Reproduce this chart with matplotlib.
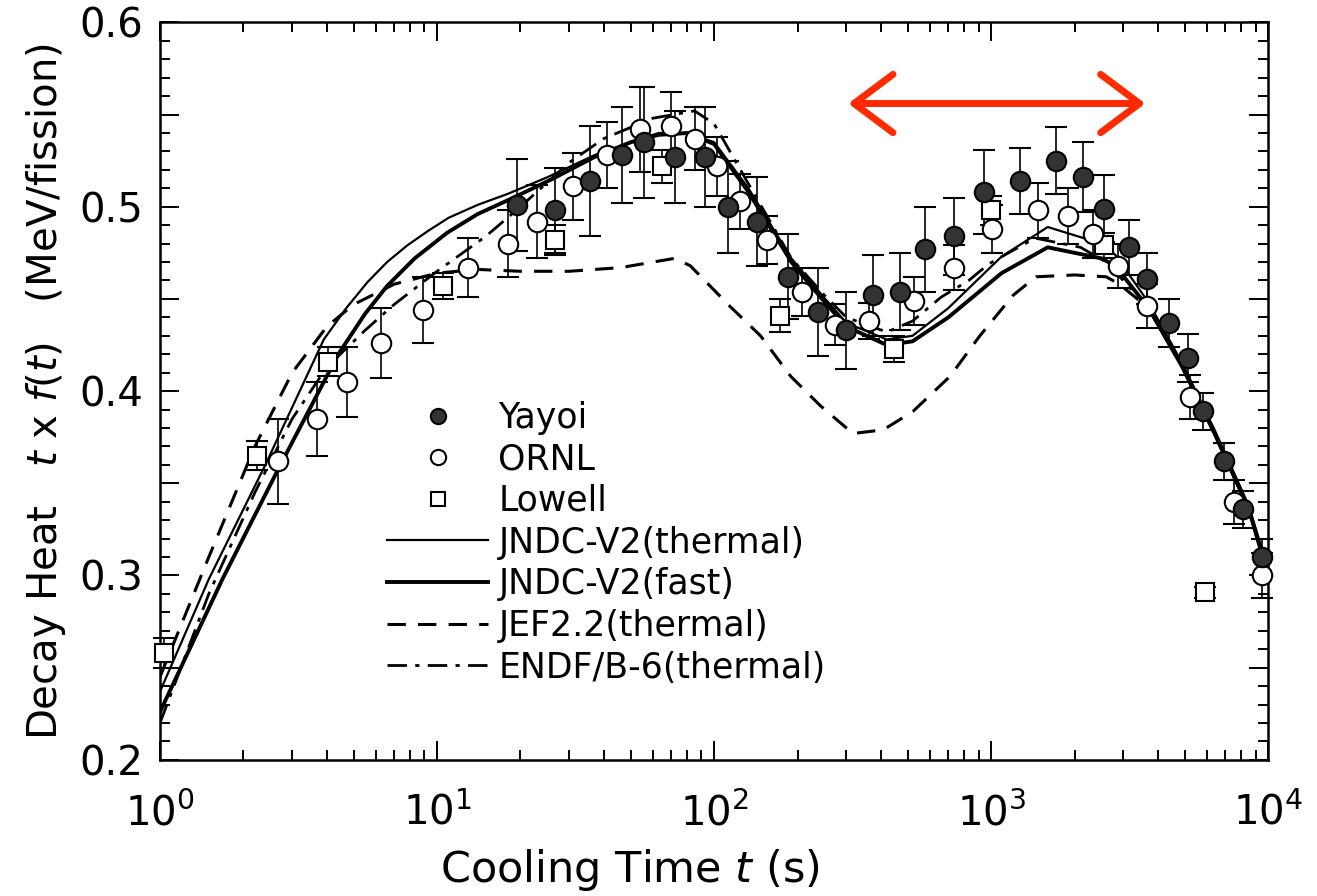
import numpy as np
import matplotlib
matplotlib.use("Agg")
import matplotlib.pyplot as plt
from matplotlib.lines import Line2D
from matplotlib.ticker import MultipleLocator, FuncFormatter, LogLocator

plt.rcParams['font.family'] = ['DejaVu Sans']
plt.rcParams['mathtext.fontset'] = 'dejavusans'

# measured points (cooling time s, t*f(t) MeV/fission, error)
t_yayoi = [19.4, 26.7, 35.7, 46.6, 56, 72, 93, 112, 143, 185, 237, 300, 375, 467, 577,
           736, 945, 1270, 1720, 2150, 2560, 3130, 3650, 4370, 5140, 5800, 6900, 8100, 9500]
v_yayoi = [0.501, 0.498, 0.514, 0.528, 0.535, 0.527, 0.527, 0.500, 0.492, 0.462, 0.443, 0.433,
           0.452, 0.454, 0.477, 0.484, 0.508, 0.514, 0.525, 0.516, 0.499, 0.478, 0.461, 0.437,
           0.418, 0.389, 0.362, 0.336, 0.310]
e_yayoi = [0.025, 0.023, 0.030, 0.026, 0.030, 0.025, 0.027, 0.025, 0.024, 0.023, 0.024, 0.021,
           0.022, 0.021, 0.023, 0.021, 0.023, 0.018, 0.018, 0.019, 0.018, 0.015, 0.014, 0.013,
           0.013, 0.010, 0.010, 0.010, 0.010]

t_ornl = [2.67, 3.69, 4.73, 6.28, 8.9, 12.9, 18, 23, 31, 41, 54, 70, 85, 102, 124, 155, 208,
          274, 362, 525, 737, 1010, 1470, 1900, 2330, 2860, 3660, 5200, 7500, 9500]
v_ornl = [0.362, 0.385, 0.405, 0.426, 0.444, 0.467, 0.480, 0.492, 0.511, 0.528, 0.542, 0.544,
          0.537, 0.522, 0.503, 0.482, 0.454, 0.436, 0.438, 0.449, 0.467, 0.488, 0.498, 0.495,
          0.485, 0.468, 0.446, 0.397, 0.340, 0.300]
e_ornl = [0.023, 0.020, 0.019, 0.019, 0.018, 0.016, 0.018, 0.020, 0.018, 0.018, 0.023, 0.018,
          0.017, 0.016, 0.015, 0.013, 0.013, 0.011, 0.010, 0.013, 0.012, 0.013, 0.015, 0.015,
          0.013, 0.012, 0.012, 0.012, 0.012, 0.012]

t_lowell = [1.03, 2.24, 4.04, 10.5, 26.6, 65, 173, 445, 1000, 2560, 5900]
v_lowell = [0.258, 0.365, 0.416, 0.457, 0.482, 0.522, 0.441, 0.423, 0.498, 0.479, 0.291]
e_lowell = [0.008, 0.008, 0.008, 0.007, 0.008, 0.009, 0.009, 0.007, 0.008, 0.007, 0.003]

# calculations
t_thermal = [1, 1.5, 2.4, 3.9, 4.7, 5.6, 6.6, 7.8, 9.3, 11, 14, 18, 25, 37, 50, 63, 80, 100,
             133, 190, 245, 300, 420, 520, 700, 1090, 1600, 2500, 2800, 3700, 4900, 6400,
             8500, 10000]
v_thermal = [0.237, 0.298, 0.360, 0.428, 0.445, 0.459, 0.470, 0.479, 0.487, 0.494, 0.501,
             0.507, 0.516, 0.528, 0.535, 0.540, 0.540, 0.535, 0.510, 0.472, 0.452, 0.437,
             0.428, 0.430, 0.445, 0.473, 0.489, 0.480, 0.474, 0.448, 0.415, 0.379, 0.338, 0.303]

t_fast = [1, 1.68, 2.72, 4.4, 5.5, 6.6, 8.3, 10.9, 14, 18.9, 26, 37, 50, 63, 80, 100, 133,
          190, 245, 300, 420, 520, 700, 1090, 1600, 2500, 2800, 3700, 4900, 6400, 8500, 10000]
v_fast = [0.226, 0.298, 0.360, 0.420, 0.442, 0.457, 0.472, 0.486, 0.496, 0.505, 0.515, 0.527,
          0.535, 0.539, 0.540, 0.534, 0.508, 0.470, 0.450, 0.435, 0.425, 0.427, 0.440, 0.464,
          0.478, 0.472, 0.468, 0.445, 0.413, 0.377, 0.336, 0.300]

t_jef = [1, 1.5, 2.2, 3, 4, 5, 7, 10, 14, 20, 30, 46, 72, 82, 114, 147, 189, 242, 317, 408,
         522, 710, 910, 1200, 1450, 2000, 2600, 2900, 3700, 4900, 6400, 8500, 10000]
v_jef = [0.245, 0.310, 0.370, 0.410, 0.435, 0.447, 0.458, 0.464, 0.466, 0.465, 0.465, 0.467,
         0.472, 0.468, 0.446, 0.430, 0.408, 0.392, 0.377, 0.379, 0.389, 0.408, 0.430, 0.452,
         0.462, 0.463, 0.462, 0.458, 0.445, 0.413, 0.377, 0.336, 0.300]

t_endf = [1, 1.5, 2.2, 3, 4, 5.5, 7, 10, 15, 20, 30, 40, 60, 85, 100, 130, 190, 250, 300, 420,
          520, 660, 830, 980, 1440, 2100, 2600, 3700, 4900, 6400, 8500, 10000]
v_endf = [0.220, 0.290, 0.345, 0.385, 0.413, 0.433, 0.447, 0.465, 0.484, 0.500, 0.524, 0.537,
          0.548, 0.552, 0.545, 0.515, 0.472, 0.452, 0.440, 0.432, 0.438, 0.451, 0.460, 0.469,
          0.483, 0.478, 0.470, 0.445, 0.413, 0.377, 0.336, 0.300]

fig = plt.figure(figsize=(13.17, 8.96), dpi=100)
ax = fig.add_axes([0.1215, 0.152, 0.8415, 0.823])

ax.plot(t_thermal, v_thermal, color='black', lw=1.6, zorder=2)
ax.plot(t_fast, v_fast, color='black', lw=2.8, zorder=2)
ax.plot(t_jef, v_jef, color='black', lw=2.2, ls=(0, (6, 4)), zorder=2)
ax.plot(t_endf, v_endf, color='black', lw=2.0, ls=(0, (7, 3, 1.5, 3)), zorder=2)

eb = dict(ecolor='black', elinewidth=1.2, capsize=8, capthick=1.2, mec='black', mew=1.5,
          ls='none', zorder=3, clip_on=False)
ax.errorbar(t_lowell, v_lowell, yerr=e_lowell, marker='s', ms=13, mfc='white', **eb)
ax.errorbar(t_ornl, v_ornl, yerr=e_ornl, marker='o', ms=14, mfc='white', **eb)
ax.errorbar(t_yayoi, v_yayoi, yerr=e_yayoi, marker='o', ms=14, mfc='#333333', **eb)

ax.set_xscale('log')
ax.set_xlim(1, 1e4)
ax.set_ylim(0.2, 0.6)
ax.xaxis.set_major_locator(LogLocator(base=10))
ax.xaxis.set_minor_locator(LogLocator(base=10, subs=np.arange(2, 10)))
ax.yaxis.set_major_locator(MultipleLocator(0.05))
ax.yaxis.set_minor_locator(MultipleLocator(0.01))
ax.yaxis.set_major_formatter(FuncFormatter(
    lambda v, p: f"{v:.1f}" if abs(v * 10 - round(v * 10)) < 1e-6 else ""))

ax.tick_params(which='both', direction='in', top=True, right=True, width=1.4)
ax.tick_params(which='major', length=14, labelsize=29, pad=12)
ax.tick_params(axis='x', which='major', pad=24)
ax.tick_params(which='minor', length=7)
for s in ax.spines.values():
    s.set_linewidth(1.8)

ax.set_xlabel("Cooling Time $t$ (s)", fontsize=31)
ax.xaxis.set_label_coords(0.424, -0.118)
ax.set_ylabel("Decay Heat   $t$ x $f(t)$   (MeV/fission)", fontsize=29, labelpad=8)

handles = [
    Line2D([], [], ls='none', marker='o', ms=11, mfc='#333333', mec='black', mew=1.5),
    Line2D([], [], ls='none', marker='o', ms=11, mfc='white', mec='black', mew=1.5),
    Line2D([], [], ls='none', marker='s', ms=10, mfc='white', mec='black', mew=1.5),
    Line2D([], [], color='black', lw=1.6),
    Line2D([], [], color='black', lw=2.8),
    Line2D([], [], color='black', lw=2.2, ls=(0, (6, 4))),
    Line2D([], [], color='black', lw=2.0, ls=(0, (7, 3, 1.5, 3))),
]
labels = ["Yayoi", "ORNL", "Lowell", "JNDC-V2(thermal)", "JNDC-V2(fast)",
          "JEF2.2(thermal)", "ENDF/B-6(thermal)"]
ax.legend(handles, labels, loc='upper left', bbox_to_anchor=(0.205, 0.487), frameon=False,
          fontsize=25, handlelength=2.9, handletextpad=0.3, labelspacing=0.22,
          borderpad=0, borderaxespad=0)

# red double arrow marking the second bump
ax.annotate("", xy=(305, 0.556), xytext=(3600, 0.556),
            arrowprops=dict(arrowstyle='<->, head_length=1.4, head_width=1.05',
                            color='#ff2a00', lw=5, mutation_scale=20,
                            shrinkA=0, shrinkB=0, capstyle='round', joinstyle='round'))

fig.savefig("out.png", dpi=100)
